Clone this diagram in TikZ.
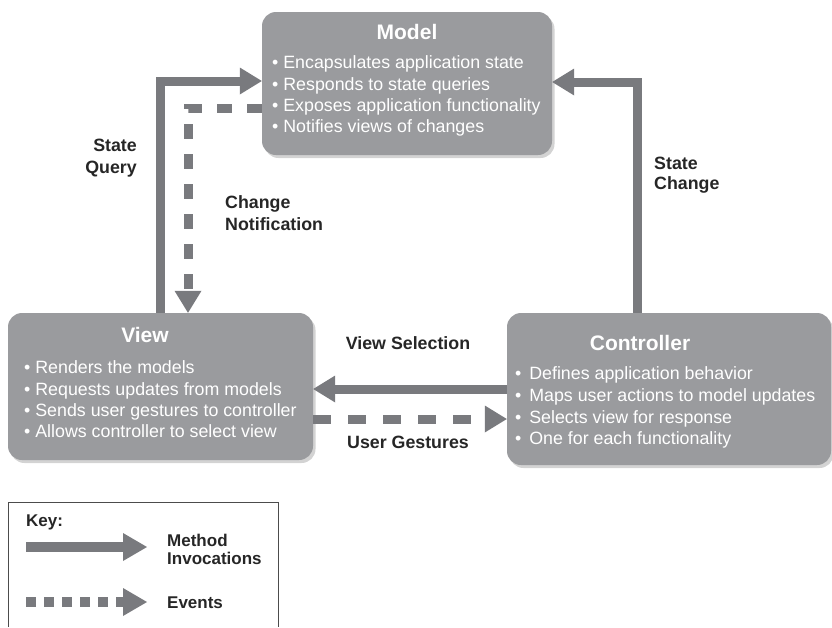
\documentclass[tikz,border=0pt]{standalone}
\usepackage{fontspec}
\setmainfont{Liberation Sans}
\usepackage{xcolor}
\usetikzlibrary{arrows.meta,shadows,positioning,calc}

\definecolor{boxgray}{HTML}{9A9B9E}
\definecolor{arrowgray}{HTML}{797A7E}

\begin{document}
\begin{tikzpicture}[x=1pt, y=-1pt,
    mvcbox/.style={fill=boxgray, rounded corners=14pt, inner sep=0pt, drop shadow={shadow xshift=2.5pt, shadow yshift=-3pt, opacity=0.35}},
    boxtitle/.style={text=white, font=\fontsize{21}{25}\selectfont\bfseries, inner sep=0pt, anchor=base},
    bullets/.style={text=white, font=\fontsize{17.8}{21.4}\selectfont, align=left, inner sep=0pt, anchor=north west},
    flowlabel/.style={text=black!85, font=\fontsize{17.8}{21.5}\selectfont\bfseries, inner sep=0pt},
    keytext/.style={text=black!85, font=\fontsize{17}{18}\selectfont\bfseries, inner sep=0pt},
    method/.style={draw=arrowgray, line width=9pt, line join=miter, -{Triangle[length=22pt, width=27pt, line width=0pt]}},
    event/.style={method, dash pattern=on 15pt off 15pt}
]
    \useasboundingbox (0,0) rectangle (832,627);

    % the three parts
    \node[mvcbox, minimum width=290pt, minimum height=143pt] (model) at (407,83.5) {};
    \node[mvcbox, minimum width=305pt, minimum height=147pt] (view) at (160.5,386.5) {};
    \node[mvcbox, minimum width=324pt, minimum height=152pt] (ctrl) at (669,389) {};

    \node[boxtitle] (modeltitle) at (407,39.6) {Model};
    \node[bullets] (modeltext) at (272,55.6) {• Encapsulates application state\\• Responds to state queries\\• Exposes application functionality\\• Notifies views of changes};

    \node[boxtitle] (viewtitle) at (145,342.4) {View};
    \node[bullets] (viewtext) at (24,360.6) {• Renders the models\\• Requests updates from models\\• Sends user gestures to controller\\• Allows controller to select view};

    \node[boxtitle] (ctrltitle) at (640,350.4) {Controller};
    \node[bullets, font=\fontsize{17.8}{21.7}\selectfont] (ctrltext) at (515,366.6) {•\ \,Defines application behavior\\•\ \,Maps user actions to model updates\\•\ \,Selects view for response\\•\ \,One for each functionality};

    % connectors
    \coordinate (sq) at (160,81);
    \coordinate (sc) at (637,82);
    \coordinate (cn) at (188,108);
    \coordinate (vs) at (0,389);
    \coordinate (ug) at (0,419);

    \draw[method] (view.north -| sq) |- (model.west |- sq);
    \draw[method] (ctrl.north -| sc) |- (model.east |- sc);
    \draw[event] (model.west |- cn) -| (view.north -| cn);
    \draw[method] (ctrl.west |- vs) -- (view.east |- vs);
    \draw[event, dash pattern=on 18pt off 17pt] (view.east |- ug) -- (ctrl.west |- ug);

    \node[flowlabel, align=right, anchor=north east, font=\fontsize{17.8}{22.5}\selectfont\bfseries] (sqlabel) at (137,138.6) {State\\Query};
    \node[flowlabel, align=left, anchor=north west] (cnlabel) at (225,195.6) {Change\\Notification};
    \node[flowlabel, align=left, anchor=north west, font=\fontsize{17.8}{20.5}\selectfont\bfseries] (sclabel) at (654,156.6) {State\\Change};
    \node[flowlabel, anchor=base] (vslabel) at (408,349.4) {View Selection};
    \node[flowlabel, anchor=base] (uglabel) at (408,448.4) {User Gestures};

    % key
    \draw[draw=black!70, line width=0.8pt] (8,627) -- (8,502) -- (278,502) -- (278,627);
    \node[keytext, anchor=base west] (keytitle) at (26,526) {Key:};
    \coordinate (k1) at (26,547);
    \coordinate (k2) at (147,547);
    \coordinate (k3) at (26,602);
    \coordinate (k4) at (147,602);
    \draw[method, line width=10pt, -{Triangle[length=24pt, width=28pt, line width=0pt]}] (k1) -- (k2);
    \draw[event, line width=10pt, dash pattern=on 10pt off 8pt, -{Triangle[length=24pt, width=28pt, line width=0pt]}] (k3) -- (k4);
    \node[keytext, align=left, anchor=north west] (keymethod) at (167,534) {Method\\Invocations};
    \node[keytext, anchor=base west] (keyevents) at (167,608) {Events};
\end{tikzpicture}
\end{document}
